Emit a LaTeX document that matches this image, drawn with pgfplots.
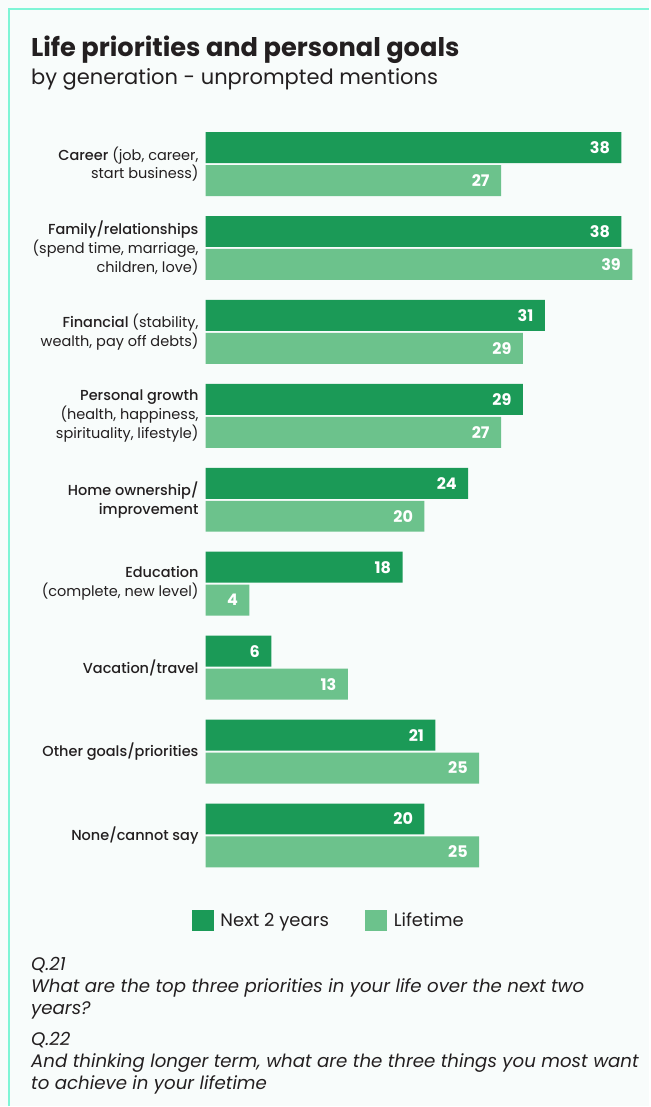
\documentclass[border=0pt]{standalone}
\usepackage{fontspec}
\setmainfont{Poppins}
\newfontfamily\medium{Poppins Medium}
\usepackage{pgfplots}
\pgfplotsset{compat=1.18}
\definecolor{darkg}{HTML}{1B9A57}
\definecolor{lightg}{HTML}{6CC28C}
\definecolor{bg}{HTML}{F8FCFB}
\definecolor{framec}{HTML}{7FF5D6}
\definecolor{txt}{HTML}{231F20}
\begin{document}
\begin{tikzpicture}[x=1pt,y=1pt]
\fill[bg] (0,0) rectangle (650,-1107);
\draw[framec, line width=2pt] (9,-1107) -- (9,-9) -- (650,-9);
\node[anchor=base west, inner sep=0, font=\fontsize{25.7}{29}\selectfont\bfseries, text=txt] at (31,-57) {Life priorities and personal goals};
\node[anchor=base west, inner sep=0, font=\fontsize{21}{24}\selectfont, text=txt] at (31,-85) {by generation - unprompted mentions};
\begin{axis}[
  at={(188,-145.5)}, anchor=north west,
  scale only axis, width=438pt, height=756pt,
  xmin=0, xmax=40, ymin=-0.5, ymax=8.5,
  xbar, bar width=31pt,
  axis line style={draw=none},
  xtick=\empty, ytick={0,...,8},
  major tick length=0pt,
  /pgf/number format/assume math mode=true,
  yticklabels={
    {{\medium None/cannot say}},
    {{\medium Other goals/priorities}},
    {{\medium Vacation/travel}},
    {{\medium Education}\\(complete, new level)},
    {{\medium Home ownership/}\\{\medium improvement}},
    {{\medium Personal growth}\\(health, happiness,\\spirituality, lifestyle)},
    {{\medium Financial} (stability,\\wealth, pay off debts)},
    {{\medium Family/relationships}\\(spend time, marriage,\\children, love)},
    {{\medium Career} (job, career,\\start business)}
  },
  yticklabel style={align=right, inner sep=0pt, xshift=-7pt, font=\fontsize{14.5}{19}\selectfont, text=txt},
  nodes near coords,
  nodes near coords style={anchor=east, text=white, font=\fontsize{16}{18}\selectfont\bfseries, xshift=-8pt},
  clip=false,
  legend columns=2,
  legend style={draw=none, fill=none, at={(0.281,-0.057)}, anchor=center, font=\fontsize{18}{22}\selectfont, text=txt,
    /tikz/every even column/.append style={column sep=34pt}},
  legend image code/.code={\fill[#1] (0pt,-11pt) rectangle (22pt,11pt); \path (27pt,0pt);},
]
\addplot[fill=darkg, draw=none, bar shift=16.5pt] coordinates {(38,8) (38,7) (31,6) (29,5) (24,4) (18,3) (6,2) (21,1) (20,0)};
\addplot[fill=lightg, draw=none, bar shift=-16.5pt] coordinates {(27,8) (39,7) (29,6) (27,5) (20,4) (4,3) (13,2) (25,1) (25,0)};
\legend{Next 2 years, Lifetime}
\end{axis}
\begin{scope}[every node/.style={anchor=base west, inner sep=0, font=\fontsize{18.2}{22}\selectfont\itshape, text=txt}]
\node at (31,-971) {Q.21};
\node at (31,-993) {What are the top three priorities in your life over the next two};
\node at (31,-1015) {years?};
\node at (31,-1046) {Q.22};
\node at (31,-1068) {And thinking longer term, what are the three things you most want};
\node at (31,-1090) {to achieve in your lifetime};
\end{scope}
\end{tikzpicture}
\end{document}
